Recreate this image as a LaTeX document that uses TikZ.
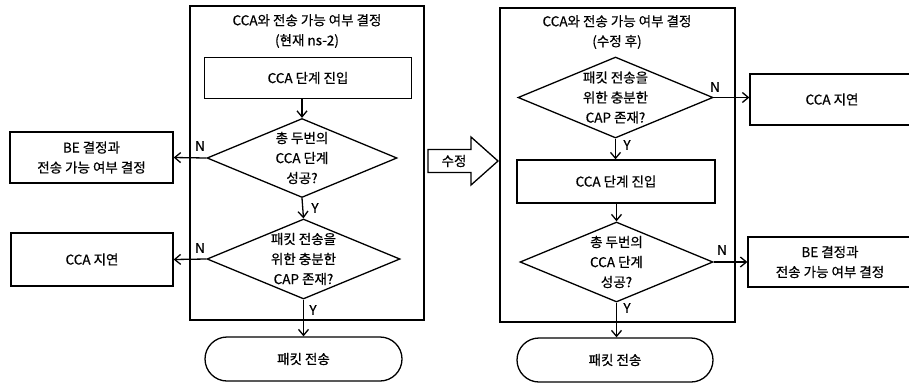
\documentclass[tikz,border=0pt]{standalone}
\usepackage{fontspec}
\setmainfont{Noto Sans CJK KR}[FakeBold=0.6]
\usetikzlibrary{shapes.geometric,arrows.meta}
\begin{document}
\begin{tikzpicture}[x=1pt,y=-1pt,
  line width=1.3pt,
  every node/.style={font=\fontsize{13.5}{20}\selectfont, align=center},
  box/.style={draw, rectangle, inner sep=0pt},
  dec/.style={draw, diamond, inner sep=0pt},
  term/.style={draw, rectangle, rounded corners=22pt, inner sep=0pt},
  arr/.style={-{Straight Barb[length=6pt,width=10pt,line width=1.3pt]}},
  yn/.style={font=\fontsize{13.5}{14}\selectfont, inner sep=0pt}]
\useasboundingbox (0,0) rectangle (909,384);
% ---------- left panel ----------
\node[box, minimum width=234pt, minimum height=314pt] (outerL) at (307,163) {};
\node (titleL) at (307,31) {CCA와 전송 가능 여부 결정\\(현재 ns-2)};
\node[box, minimum width=207pt, minimum height=41pt] (enterL) at (308,78) {CCA 단계 진입};
\node[dec, minimum width=190pt, minimum height=79pt] (d1L) at (302,158) {};
\node (d1Lt) at (d1L.center) {총 두번의\\CCA 단계\\성공?};
\node[box, minimum width=163pt, minimum height=51pt] (beL) at (91.5,157.5) {BE 결정과\\전송 가능 여부 결정};
\node[dec, minimum width=193pt, minimum height=80pt] (d2L) at (303.5,259) {};
\node (d2Lt) at (d2L.center) {패킷 전송을\\위한 충분한\\CAP 존재?};
\node[box, minimum width=162pt, minimum height=53pt] (delayL) at (92,259.5) {CCA 지연};
\node[term, minimum width=197pt, minimum height=44pt] (pktL) at (303.5,359) {패킷 전송};
\draw[arr] (enterL.south -| d1L.north) -- (d1L.north);
\draw[arr] (d1L.west) -- (beL.east);
\draw[arr] (d1L.south) -- (d2L.north);
\draw[arr] (d2L.west) -- (delayL.east);
\draw[arr] (d2L.south) -- (pktL.north);
\node[yn] (nL1) at (200,146) {N};
\node[yn] (yL1) at (315,208) {Y};
\node[yn] (nL2) at (200,248) {N};
\node[yn] (yL2) at (313,310) {Y};
% ---------- middle arrow ----------
\draw (428,149.5) -- (471,149.5) -- (471,137) -- (498,161) -- (471,185) -- (471,172.5) -- (428,172.5) -- cycle;
\node (fix) at (454,161) {수정};
% ---------- right panel ----------
\node[box, minimum width=235pt, minimum height=314pt] (outerR) at (617.5,165) {};
\node (titleR) at (617,32) {CCA와 전송 가능 여부 결정\\(수정 후)};
\node[dec, minimum width=195pt, minimum height=81pt] (d1R) at (615.5,97.5) {};
\node (d1Rt) at (d1R.center) {패킷 전송을\\위한 충분한\\CAP 존재?};
\node[box, minimum width=164pt, minimum height=51pt] (delayR) at (832,99.5) {CCA 지연};
\node[box, minimum width=198pt, minimum height=43pt] (enterR) at (616,181.5) {CCA 단계 진입};
\node[dec, minimum width=193pt, minimum height=80pt] (d2R) at (616.5,262) {};
\node (d2Rt) at (d2R.center) {총 두번의\\CCA 단계\\성공?};
\node[box, minimum width=164pt, minimum height=50pt] (beR) at (830,262) {BE 결정과\\전송 가능 여부 결정};
\node[term, minimum width=196pt, minimum height=44pt] (pktR) at (615,360) {패킷 전송};
\draw[arr] (d1R.east) -- (d1R.east -| delayR.west);
\draw[arr] (d1R.south) -- (d1R.south |- enterR.north);
\draw[arr] (enterR.south -| d2R.north) -- (d2R.north);
\draw[arr] (d2R.east) -- (d2R.east -| beR.west);
\draw[arr] (d2R.south) -- (d2R.south |- pktR.north);
\node[yn] (nR1) at (715,87) {N};
\node[yn] (yR1) at (627,145) {Y};
\node[yn] (nR2) at (722,250) {N};
\node[yn] (yR2) at (627,308) {Y};
\end{tikzpicture}
\end{document}
